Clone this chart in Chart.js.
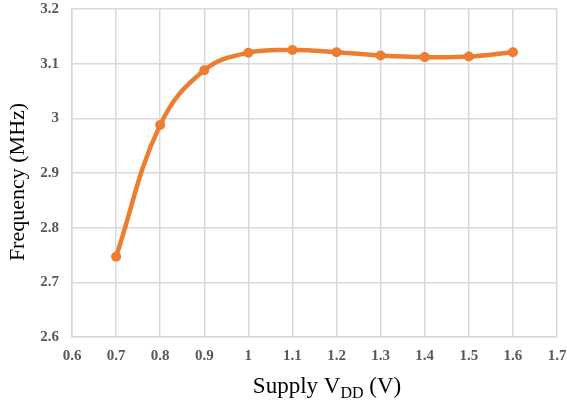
<!DOCTYPE html>
<html>
<head>
<meta charset="utf-8">
<script src="https://cdn.jsdelivr.net/npm/chart.js@4"></script>
<style>
  html, body { margin: 0; padding: 0; background: #fff; }
  #wrap { width: 567px; height: 405px; }
</style>
</head>
<body>
<div id="wrap"><canvas id="myChart"></canvas></div>
<script>
// data
const supplyV = [0.7, 0.8, 0.9, 1.0, 1.1, 1.2, 1.3, 1.4, 1.5, 1.6];
const freqMHz = [2.747, 2.988, 3.088, 3.120, 3.125, 3.121, 3.115, 3.112, 3.113, 3.121];
const xTitle = 'Supply V';
const xTitleSub = 'DD';
const xTitleEnd = ' (V)';
const yTitle = 'Frequency (MHz)';

// draws axis titles (x title needs a subscript)
const axisTitles = {
  id: 'axisTitles',
  afterDraw(chart) {
    const c = chart.ctx;
    c.save();
    c.fillStyle = '#000';
    c.textBaseline = 'alphabetic';
    const big = '23px "Liberation Serif", "Times New Roman", serif';
    const small = '16px "Liberation Serif", "Times New Roman", serif';
    c.font = big;
    const w1 = c.measureText(xTitle).width;
    const w3 = c.measureText(xTitleEnd).width;
    c.font = small;
    const w2 = c.measureText(xTitleSub).width;
    let x = 327 - (w1 + w2 + w3) / 2;
    const y = 393;
    c.textAlign = 'left';
    c.font = big;
    c.fillText(xTitle, x, y);
    x += w1;
    c.font = small;
    c.fillText(xTitleSub, x, y + 5);
    x += w2;
    c.font = big;
    c.fillText(xTitleEnd, x, y);

    c.translate(24, 182);
    c.rotate(-Math.PI / 2);
    c.textAlign = 'center';
    c.font = '22px "Liberation Serif", "Times New Roman", serif';
    c.fillText(yTitle, 0, 0);
    c.restore();
  }
};

const ctx = document.getElementById('myChart').getContext('2d');
const myChart = new Chart(ctx, {
  type: 'line',
  data: {
    datasets: [{
      label: 'Frequency',
      data: supplyV.map((v, i) => ({ x: v, y: freqMHz[i] })),
      borderColor: '#ED7D31',
      backgroundColor: '#ED7D31',
      borderWidth: 4.5,
      pointRadius: 5,
      pointBorderWidth: 0,
      tension: 0.4,
      fill: false
    }]
  },
  options: {
    responsive: true,
    maintainAspectRatio: false,
    animation: false,
    layout: { padding: { left: 0, right: 10, top: 9, bottom: 0 } },
    plugins: {
      legend: { display: false },
      tooltip: { enabled: false }
    },
    scales: {
      x: {
        type: 'linear',
        min: 0.6,
        max: 1.7,
        afterFit: (s) => {
          s.height = 405 - 337;
          s.paddingLeft = 0;
          s.paddingRight = 0;
        },
        ticks: {
          stepSize: 0.1,
          color: '#595959',
          padding: 10,
          font: { family: '"Liberation Serif", serif', size: 15, weight: 'bold' },
          callback: (v) => Number(v.toFixed(1)).toString()
        },
        grid: { color: '#d9d9d9', lineWidth: 1.5, drawTicks: false },
        border: { color: '#d9d9d9', width: 1.5 }
      },
      y: {
        min: 2.6,
        max: 3.2,
        afterFit: (s) => {
          s.width = 72;
          s.paddingTop = 0;
          s.paddingBottom = 0;
        },
        ticks: {
          stepSize: 0.1,
          color: '#595959',
          padding: 13,
          font: { family: '"Liberation Serif", serif', size: 15, weight: 'bold' },
          callback: (v) => Number(v.toFixed(1)).toString()
        },
        grid: { color: '#d9d9d9', lineWidth: 1.5, drawTicks: false },
        border: { color: '#d9d9d9', width: 1.5 }
      }
    }
  },
  plugins: [axisTitles]
});
</script>
</body>
</html>
